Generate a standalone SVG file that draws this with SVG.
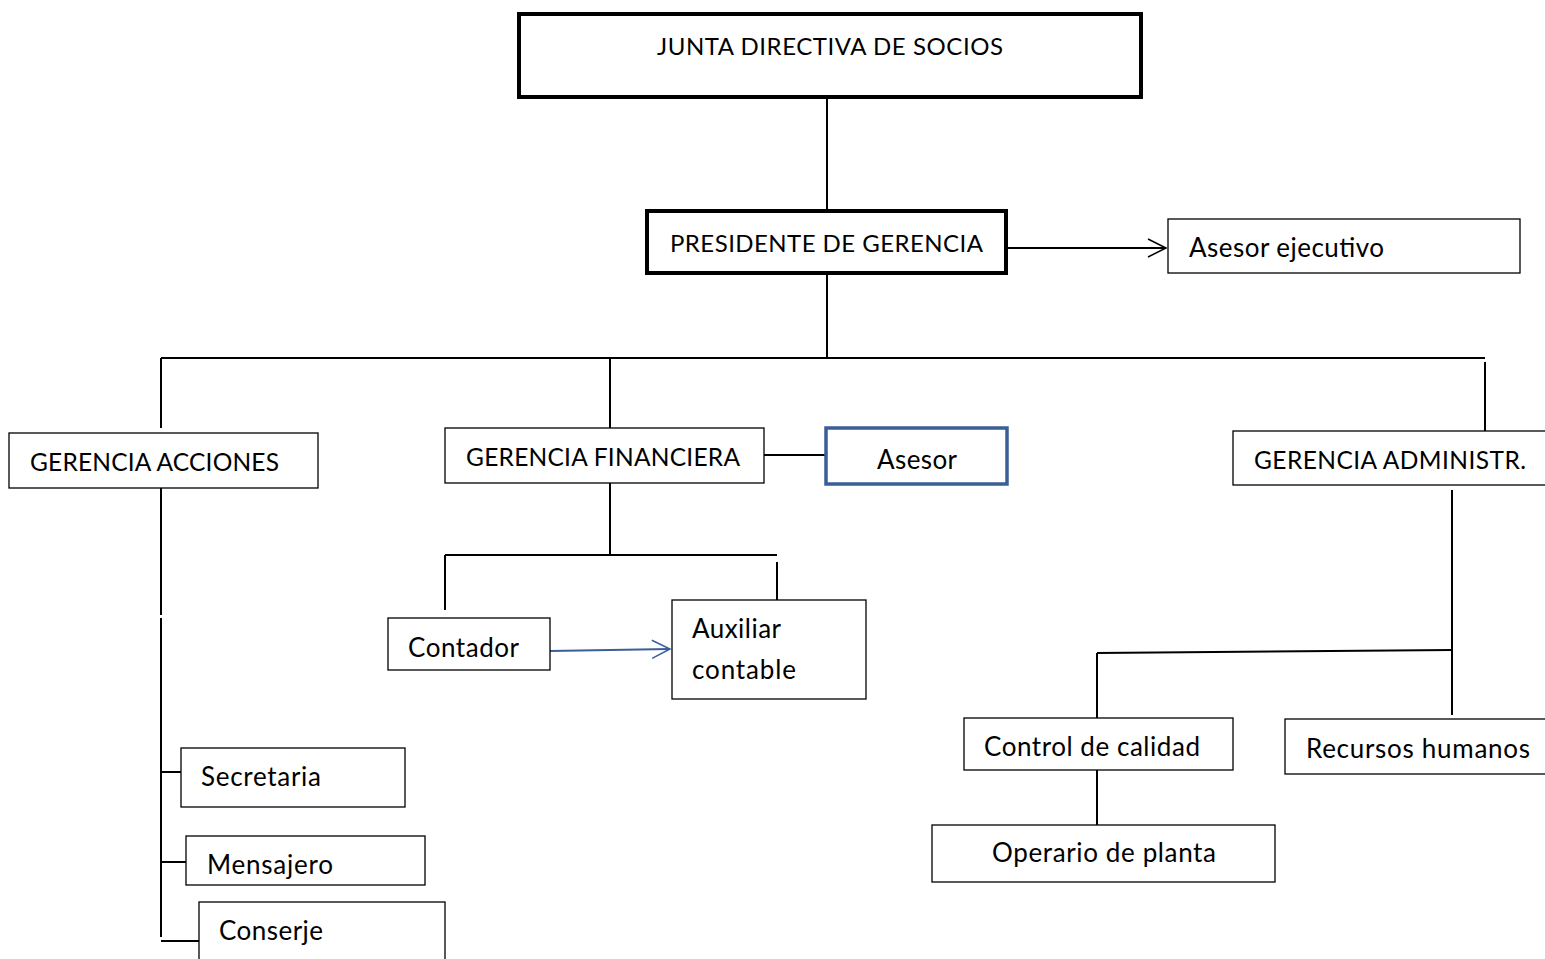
<svg xmlns="http://www.w3.org/2000/svg" width="1545" height="959" viewBox="0 0 1545 959">
<defs>
<style>
.box{fill:#fff;stroke:#000;stroke-width:1.3}
.thick{fill:#fff;stroke:#000;stroke-width:4}
.blue{fill:#fff;stroke:#3a5f96;stroke-width:3.5}
.ln{stroke:#000;stroke-width:2;fill:none}
.t{font-family:Lato,"Liberation Sans",sans-serif;font-size:26px;fill:#000}
.tc{font-family:Lato,"Liberation Sans",sans-serif;font-size:24.5px;fill:#000}
.ts{font-family:Lato,"Liberation Sans",sans-serif;font-size:24px;fill:#000}
</style>
<marker id="arr" markerWidth="22" markerHeight="22" refX="20" refY="11" orient="auto" markerUnits="userSpaceOnUse">
<path d="M2,2 L20,11 L2,20" fill="none" stroke="#000" stroke-width="1.5"/>
</marker>
<marker id="arrb" markerWidth="22" markerHeight="22" refX="20" refY="11" orient="auto" markerUnits="userSpaceOnUse">
<path d="M2,2 L20,11 L2,20" fill="none" stroke="#3a5f96" stroke-width="1.5"/>
</marker>
</defs>
<rect width="1545" height="959" fill="#fff"/>
<g id="connectors">
<path class="ln" d="M827,97 V211"/>
<path class="ln" d="M1006,248 H1166" marker-end="url(#arr)"/>
<path class="ln" d="M827,273 V358"/>
<path class="ln" d="M161,358 H1485"/>
<path class="ln" d="M161,358 V428"/>
<path class="ln" d="M610,358 V428"/>
<path class="ln" d="M1485,362 V431"/>
<path class="ln" d="M764,455 H826"/>
<path class="ln" d="M610,483 V555"/>
<path class="ln" d="M445,555 H777"/>
<path class="ln" d="M445,555 V610"/>
<path class="ln" d="M777,562 V600"/>
<path d="M550,651 L670,649" stroke="#3a5f96" stroke-width="2" fill="none" marker-end="url(#arrb)"/>
<path class="ln" d="M161,488 V615"/>
<path class="ln" d="M161,618 V937"/>
<path class="ln" d="M161,772 H181"/>
<path class="ln" d="M161,862 H186"/>
<path class="ln" d="M161,941 H199"/>
<path class="ln" d="M1452,490 V715"/>
<path class="ln" d="M1097,653 L1452,650"/>
<path class="ln" d="M1097,653 V718"/>
<path class="ln" d="M1097,770 V825"/>
</g>
<g id="junta"><rect class="thick" x="519" y="14" width="622" height="83"/><text class="ts" x="657" y="55" textLength="346">JUNTA DIRECTIVA DE SOCIOS</text></g>
<g id="presidente"><rect class="thick" x="647" y="211" width="359" height="62"/><text class="ts" x="670" y="252" textLength="313">PRESIDENTE DE GERENCIA</text></g>
<g id="asesor-ejecutivo"><rect class="box" x="1168" y="219" width="352" height="54"/><text class="t" x="1189" y="257" textLength="195">Asesor ejecutivo</text></g>
<g id="gerencia-acciones"><rect class="box" x="9" y="433" width="309" height="55"/><text class="tc" x="30" y="471" textLength="249">GERENCIA ACCIONES</text></g>
<g id="gerencia-financiera"><rect class="box" x="445" y="428" width="319" height="55"/><text class="tc" x="466" y="466" textLength="274">GERENCIA FINANCIERA</text></g>
<g id="asesor"><rect class="blue" x="826" y="428" width="181" height="56"/><text class="t" x="877" y="469" textLength="80">Asesor</text></g>
<g id="gerencia-administr"><rect class="box" x="1233" y="431" width="320" height="54"/><text class="tc" x="1254" y="469" textLength="272">GERENCIA ADMINISTR.</text></g>
<g id="contador"><rect class="box" x="388" y="618" width="162" height="52"/><text class="t" x="408" y="657" textLength="111">Contador</text></g>
<g id="auxiliar"><rect class="box" x="672" y="600" width="194" height="99"/><text class="t" x="692" y="638" textLength="89">Auxiliar</text><text class="t" x="692" y="679" textLength="104">contable</text></g>
<g id="secretaria"><rect class="box" x="181" y="748" width="224" height="59"/><text class="t" x="201" y="786" textLength="120">Secretaria</text></g>
<g id="mensajero"><rect class="box" x="186" y="836" width="239" height="49"/><text class="t" x="207" y="874" textLength="126">Mensajero</text></g>
<g id="conserje"><rect class="box" x="199" y="902" width="246" height="70"/><text class="t" x="219" y="940" textLength="104">Conserje</text></g>
<g id="control"><rect class="box" x="964" y="718" width="269" height="52"/><text class="t" x="984" y="756" textLength="216">Control de calidad</text></g>
<g id="operario"><rect class="box" x="932" y="825" width="343" height="57"/><text class="t" x="992" y="862" textLength="224">Operario de planta</text></g>
<g id="recursos"><rect class="box" x="1285" y="719" width="270" height="55"/><text class="t" x="1306" y="758" textLength="224">Recursos humanos</text></g>
</svg>
